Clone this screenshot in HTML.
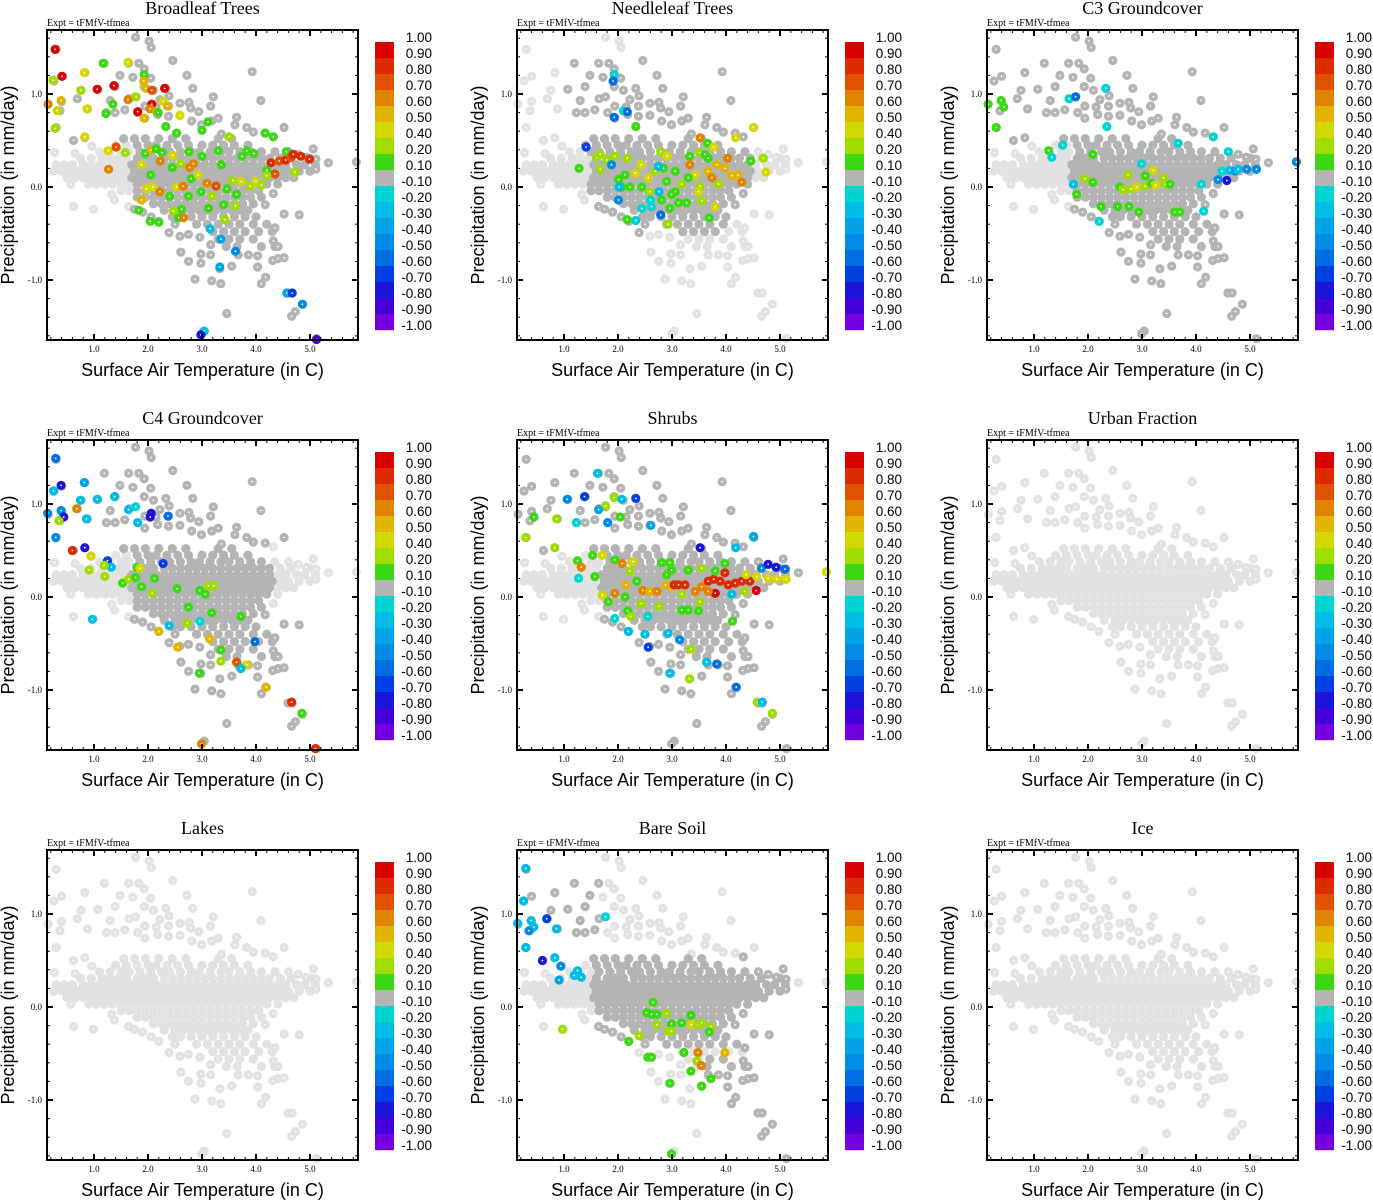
<!DOCTYPE html>
<html><head><meta charset="utf-8"><style>
html,body{margin:0;padding:0;background:#fff;}
svg{display:block;}
</style></head><body>
<svg id="chart" xmlns="http://www.w3.org/2000/svg" width="1373" height="1200" viewBox="0 0 1373 1200"></svg>
<script>
// ---- data ----
const panelTitles = ["Broadleaf Trees","Needleleaf Trees","C3 Groundcover","C4 Groundcover","Shrubs","Urban Fraction","Lakes","Bare Soil","Ice"];
const darkModes = ["p1","p2","p1","p4","p1","none","none","p8","none"];
const xTicks = [1,2,3,4,5];
const xTickLabels = ["1.0","2.0","3.0","4.0","5.0"];
const yTicks = [1,0,-1];
const yTickLabels = ["1.0","0.0","-1.0"];
const cbarEdges = [1,0.9,0.8,0.7,0.6,0.5,0.4,0.2,0.1,-0.1,-0.2,-0.3,-0.4,-0.5,-0.6,-0.7,-0.8,-0.9,-1];
const cbarLabels = ["1.00","0.90","0.80","0.70","0.60","0.50","0.40","0.20","0.10","-0.10","-0.20","-0.30","-0.40","-0.50","-0.60","-0.70","-0.80","-0.90","-1.00"];
const cbarColors = ["#d80000","#de2a00","#e05200","#e08400","#e0b400","#d2d800","#a0dc00","#3cd814","#b4b4b4","#00d4d0","#00bce6","#00a4e6","#008ce6","#006ee2","#0040e0","#1c14d8","#4400d8","#7400e0"];
const coreRows = [
 [0.52,[1.55,1.75,1.95,2.2,2.45,2.7,3.3,3.55]],
 [0.45,[1.4,1.6,1.8,2.0,2.15,2.35,2.55,2.75,3.0,3.2,3.4,3.6,3.85]],
 [0.38,[1.1,1.3,1.5,1.65,1.85,2.05,2.25,2.4,2.6,2.8,2.95,3.15,3.35,3.5,3.7,3.9,4.1,4.35]],
 [0.31,[0.75,0.95,1.15,1.3,1.45,1.6,1.8,1.95,2.1,2.3,2.45,2.6,2.75,2.9,3.05,3.2,3.35,3.5,3.65,3.8,3.95,4.1,4.25,4.45,4.65,5.0]],
 [0.24,[0.3,0.45,0.6,0.8,0.95,1.1,1.25,1.4,1.55,1.7,1.85,2.0,2.15,2.3,2.45,2.6,2.75,2.9,3.05,3.2,3.35,3.5,3.65,3.8,3.95,4.1,4.25,4.4,4.55,4.75,4.9,5.1]],
 [0.17,[0.25,0.4,0.55,0.7,0.85,1.0,1.15,1.3,1.45,1.6,1.75,1.9,2.05,2.2,2.35,2.5,2.65,2.8,2.95,3.1,3.25,3.4,3.55,3.7,3.85,4.0,4.15,4.3,4.45,4.6,4.8,5.0]],
 [0.10,[0.5,0.65,0.8,0.95,1.1,1.25,1.4,1.55,1.7,1.85,2.0,2.15,2.3,2.45,2.6,2.75,2.9,3.05,3.2,3.35,3.5,3.65,3.8,3.95,4.1,4.25,4.4,4.55,4.7]],
 [0.03,[0.9,1.05,1.2,1.35,1.5,1.65,1.8,1.95,2.1,2.25,2.4,2.55,2.7,2.85,3.0,3.15,3.3,3.45,3.6,3.75,3.9,4.05,4.2,4.4]],
 [-0.04,[1.5,1.65,1.8,1.95,2.1,2.25,2.4,2.55,2.7,2.85,3.0,3.15,3.3,3.45,3.6,3.75,3.9,4.05]],
 [-0.11,[1.8,1.95,2.1,2.25,2.4,2.55,2.7,2.85,3.0,3.15,3.3,3.45,3.6,3.75,3.9,4.1]],
 [-0.18,[2.1,2.25,2.4,2.55,2.7,2.85,3.0,3.15,3.3,3.45,3.6,3.75,3.95]],
 [-0.25,[2.3,2.5,2.65,2.8,2.95,3.1,3.25,3.4,3.55,3.7,3.85]],
 [-0.32,[2.45,2.6,2.8,3.0,3.2,3.4,3.6,3.8,4.0]],
 [-0.40,[2.9,3.1,3.3,3.5,3.7,3.95,4.2]],
 [-0.48,[3.2,3.4,3.6,3.8,4.05,4.3]],
 [-0.56,[3.3,3.5,3.7,3.95]],
 [-0.64,[3.45,3.65,4.1,4.35]]
];
const outerPts = [[1.77,1.61],[2.02,1.57],[2.06,1.5],[0.3,1.48],[2.46,1.36],[1.19,1.33],[1.64,1.33],[1.83,1.33],[1.93,1.27],[3.93,1.24],[0.83,1.23],[0.4,1.19],[0.26,1.14],[1.48,1.2],[1.72,1.18],[2.05,1.17],[2.72,1.2],[1.39,1.08],[1.07,1.05],[0.76,1.04],[1.93,1.08],[2.1,1.04],[2.33,1.06],[2.83,1.06],[1.3,0.93],[1.65,0.95],[1.77,0.97],[0.69,0.95],[0.4,0.92],[0.15,0.89],[0.37,0.82],[0.88,0.84],[1.23,0.8],[1.39,0.8],[1.57,0.83],[1.81,0.8],[1.94,0.87],[2.15,0.86],[2.22,0.94],[2.38,0.87],[2.39,0.98],[2.59,0.9],[2.76,0.91],[2.79,0.85],[2.94,0.81],[3.16,0.87],[3.21,0.97],[4.09,0.93],[1.94,0.74],[2.18,0.78],[2.38,0.76],[2.59,0.77],[2.81,0.71],[2.99,0.67],[3.18,0.71],[3.3,0.74],[3.64,0.75],[0.3,0.64],[0.83,0.53],[0.62,0.5],[0.96,0.44],[0.27,0.37],[0.65,0.36],[3.36,0.57],[3.61,0.67],[3.83,0.64],[3.95,0.59],[4.17,0.58],[4.32,0.54],[4.52,0.64],[4.6,0.38],[4.78,0.35],[4.93,0.32],[5.06,0.41],[5.11,0.3],[5.34,0.26],[5.11,0.19],[5.86,0.27],[0.57,0.03],[0.62,-0.21],[0.99,-0.24],[1.33,-0.08],[1.38,-0.14],[1.64,-0.21],[1.75,-0.24],[1.9,-0.27],[2.06,-0.32],[2.2,-0.37],[2.39,-0.49],[2.5,-0.4],[2.59,-0.53],[2.75,-0.51],[2.96,-0.54],[2.61,-0.7],[2.75,-0.8],[2.98,-0.72],[2.98,-0.82],[3.16,-0.73],[3.16,-0.62],[3.33,-0.88],[3.55,-0.85],[2.87,-0.99],[3.18,-1.01],[3.35,-1.04],[3.67,-0.73],[3.86,-0.73],[4.03,-0.74],[4.03,-0.86],[4.1,-1.04],[4.18,-0.97],[4.31,-0.79],[4.41,-0.77],[4.52,-0.76],[4.41,-0.64],[4.32,-0.58],[4.35,-0.44],[4.52,-0.29],[4.32,-0.07],[4.17,-0.19],[4.8,-0.3],[4.59,-1.14],[4.67,-1.14],[4.86,-1.26],[4.73,-1.34],[4.66,-1.39],[3.46,-1.36],[3.04,-1.55],[2.99,-1.58],[5.12,-1.63]];

const broadleafPts = [[0.28,1.48,0.9],[0.41,1.19,0.9],[0.24,1.15,0.3],[0.15,0.89,0.6],[0.39,0.93,0.5],[0.32,0.82,0.4],[0.28,0.63,0.3],[0.82,1.23,0.4],[0.76,1.04,0.3],[0.87,0.84,0.4],[1.06,1.05,0.9],[1.17,1.33,0.1],[1.37,1.09,0.9],[1.35,0.89,0.1],[1.22,0.79,0.1],[1.63,1.34,0.4],[1.63,0.94,0.6],[1.78,0.97,0.3],[1.81,0.81,0.9],[1.93,1.21,0.1],[1.92,1.14,0.5],[1.96,1.06,0.5],[2.07,1.04,0.7],[2.31,1.06,0.9],[2.07,0.89,0.9],[2.04,0.84,0.6],[2.16,0.81,0.5],[2.28,0.92,0.4],[2.36,0.87,0.5],[1.93,0.74,0.5],[2.59,0.77,0.4],[2.19,0.8,0.1],[3.11,0.7,0.1],[3.0,0.61,0.1],[2.33,0.65,0.1],[2.53,0.58,0.1],[3.5,0.54,0.3],[4.17,0.58,0.1],[4.32,0.54,0.1],[0.83,0.54,0.4],[1.26,0.39,0.4],[1.41,0.43,0.7],[1.58,0.37,0.3],[1.27,0.19,0.6],[1.88,0.24,0.4],[1.95,0.36,0.1],[2.06,0.4,0.5],[2.15,0.41,0.1],[2.26,0.37,0.1],[2.46,0.34,0.4],[2.23,0.28,0.6],[2.45,0.21,0.1],[2.61,0.25,0.3],[2.76,0.38,0.1],[2.77,0.21,0.6],[2.84,0.25,0.6],[3.0,0.33,0.1],[3.3,0.39,0.1],[3.36,0.24,0.1],[3.83,0.39,0.1],[3.96,0.36,0.1],[3.74,0.33,0.1],[4.2,0.18,0.1],[4.28,0.26,0.8],[4.35,0.14,0.7],[4.43,0.28,0.7],[4.55,0.29,0.8],[4.56,0.38,0.1],[4.65,0.32,0.7],[4.69,0.35,0.8],[4.83,0.33,0.8],[4.99,0.3,0.8],[4.72,0.16,0.3],[2.05,0.13,0.1],[1.97,-0.02,0.4],[2.09,0.0,0.4],[2.22,-0.05,0.6],[2.4,-0.1,0.1],[2.53,0.0,0.4],[2.65,0.01,0.6],[2.62,-0.24,0.1],[2.47,-0.26,0.3],[1.88,-0.14,0.5],[1.83,-0.25,0.1],[2.04,-0.37,0.1],[2.2,-0.38,0.1],[2.57,-0.33,0.1],[2.66,-0.33,0.6],[2.8,0.09,0.1],[2.93,0.13,0.4],[3.09,0.04,0.6],[3.26,0.01,0.7],[2.98,-0.05,0.1],[3.19,-0.1,0.3],[3.12,-0.23,0.1],[3.4,-0.19,0.1],[3.42,-0.35,0.3],[3.62,-0.2,0.3],[3.57,0.07,0.3],[3.73,0.06,0.4],[3.89,0.01,0.3],[3.64,-0.08,0.1],[3.46,-0.02,0.1],[4.0,0.06,0.4],[4.1,0.02,0.3],[4.2,0.12,0.3],[2.75,-0.1,0.1],[3.15,-0.45,-0.3],[3.35,-0.56,-0.4],[3.62,-0.69,-0.5],[3.33,-0.86,-0.4],[4.57,-1.14,-0.4],[4.67,-1.14,-0.7],[4.86,-1.26,-0.5],[3.04,-1.55,-0.3],[2.98,-1.59,-0.8],[5.12,-1.64,-0.9]];
const needleleafPts = [[1.93,1.21,-0.2],[1.91,1.14,-0.6],[2.1,0.82,-0.2],[2.17,0.81,-0.6],[1.93,0.75,-0.6],[1.41,0.43,-0.7],[2.33,0.65,0.1],[3.52,0.53,0.6],[3.66,0.47,0.1],[3.77,0.43,0.4],[4.18,0.53,0.4],[4.51,0.64,0.4],[1.28,0.2,0.1],[1.61,0.32,0.3],[1.67,0.35,0.3],[1.79,0.29,0.3],[1.94,0.33,0.3],[2.17,0.31,0.3],[1.67,0.19,0.3],[2.01,0.08,0.1],[2.07,0.0,0.1],[2.22,0.0,0.1],[2.43,0.24,0.4],[2.32,0.15,0.4],[2.13,0.13,0.1],[2.44,0.0,0.1],[2.59,-0.05,0.3],[2.56,0.1,0.4],[2.69,0.17,0.3],[2.79,0.38,0.3],[2.91,0.33,0.4],[2.84,0.2,0.1],[2.9,0.06,0.1],[3.06,-0.05,0.1],[2.81,-0.14,0.1],[2.96,-0.23,0.1],[3.12,-0.17,0.1],[3.27,-0.17,0.1],[3.06,0.17,0.1],[3.18,0.03,0.3],[3.33,0.33,0.1],[3.33,0.24,0.6],[3.43,0.13,0.4],[3.52,0.37,0.3],[3.52,0.01,0.3],[3.61,0.35,0.1],[3.67,0.31,0.1],[3.67,0.17,0.5],[3.74,0.1,0.6],[3.83,0.24,0.5],[3.86,0.03,0.3],[3.98,0.2,0.5],[4.03,0.31,0.6],[4.11,0.12,0.5],[4.22,0.13,0.5],[4.29,0.05,0.6],[4.46,0.28,0.1],[4.69,0.31,0.3],[4.74,0.16,0.4],[3.55,-0.15,0.3],[3.8,-0.21,0.4],[3.69,-0.33,0.1],[3.49,-0.05,0.4],[3.3,0.1,0.1],[2.99,-0.08,0.1],[2.01,-0.14,-0.5],[2.02,0.0,-0.3],[2.6,-0.14,-0.2],[2.76,-0.05,-0.3],[2.44,-0.23,-0.2],[2.62,-0.21,-0.2],[2.33,-0.36,-0.2],[2.17,-0.35,0.1],[2.79,-0.3,-0.6],[2.93,-0.4,0.3],[1.88,0.24,-0.5],[2.75,0.22,-0.3]];
const c3Pts = [[0.15,0.89,0.1],[0.39,0.93,0.1],[0.44,0.86,0.1],[0.3,0.64,0.1],[1.27,0.39,0.1],[1.33,0.32,-0.2],[1.53,0.45,-0.2],[1.65,0.95,-0.2],[1.77,0.97,-0.6],[2.33,1.06,-0.2],[2.35,0.65,-0.2],[2.09,0.35,0.1],[1.94,0.09,0.3],[2.09,0.05,0.1],[1.79,-0.08,0.1],[1.73,0.03,-0.3],[2.24,-0.21,0.1],[2.55,-0.21,0.1],[2.76,-0.21,0.1],[2.94,-0.27,0.1],[3.61,-0.27,0.1],[3.7,-0.27,0.1],[2.59,0.0,0.1],[2.65,-0.03,0.3],[2.8,-0.02,0.3],[2.9,0.0,0.4],[3.06,0.01,0.3],[2.74,0.13,0.3],[3.06,0.12,0.1],[3.21,0.18,0.4],[3.18,0.04,0.1],[3.25,0.02,0.4],[3.4,0.1,0.3],[3.43,0.03,0.3],[3.52,0.03,0.1],[2.21,-0.37,-0.2],[3.67,0.47,-0.2],[4.32,0.54,-0.2],[4.6,0.38,-0.2],[4.48,0.17,-0.2],[4.63,0.18,-0.3],[4.72,0.17,-0.4],[4.78,0.19,-0.3],[4.94,0.19,-0.5],[5.12,0.19,-0.5],[4.57,0.07,-0.8],[4.41,0.08,-0.5],[4.14,-0.26,-0.2],[4.1,0.03,-0.2],[5.86,0.27,-0.5],[2.99,0.25,-0.2]];
const c4Pts = [[0.29,1.49,-0.6],[0.39,1.2,-0.8],[0.25,1.14,-0.3],[0.82,1.23,-0.4],[0.75,1.04,-0.3],[1.06,1.05,-0.3],[1.38,1.08,-0.3],[0.68,0.95,0.6],[0.39,0.93,-0.5],[0.44,0.86,-0.8],[0.35,0.82,0.3],[0.14,0.9,-0.5],[0.86,0.84,-0.3],[1.64,0.94,-0.3],[1.77,0.97,-0.2],[1.81,0.8,-0.3],[2.06,0.9,-0.8],[2.04,0.86,-0.8],[2.37,0.87,-0.6],[0.29,0.64,-0.5],[0.6,0.5,0.8],[0.83,0.53,-0.8],[0.94,0.44,0.4],[1.25,0.39,-0.7],[1.32,0.32,-0.3],[1.19,0.34,0.3],[0.91,0.29,0.3],[1.2,0.22,0.3],[1.53,0.15,0.1],[1.64,0.19,0.3],[1.77,0.21,0.1],[1.79,0.32,0.1],[1.85,0.31,0.4],[1.88,0.11,0.1],[2.08,0.04,0.3],[2.12,0.2,0.1],[2.28,0.36,-0.7],[2.54,0.09,0.1],[2.75,-0.11,0.1],[2.96,0.07,0.1],[3.06,0.03,0.1],[3.12,0.12,0.3],[3.22,0.12,0.3],[3.18,-0.17,0.1],[3.72,-0.21,0.1],[2.96,-0.26,-0.2],[2.73,-0.28,0.3],[2.39,-0.31,-0.3],[2.2,-0.37,0.5],[0.97,-0.24,-0.3],[2.55,-0.54,0.5],[3.14,-0.45,0.5],[3.35,-0.57,0.1],[3.35,-0.69,0.3],[3.64,-0.7,0.7],[3.83,-0.73,0.4],[3.72,-0.77,-0.3],[2.95,-0.82,0.1],[4.19,-0.97,0.5],[4.66,-1.13,0.8],[4.85,-1.25,0.1],[2.99,-1.58,0.6],[5.1,-1.63,0.8],[3.98,-0.48,-0.6]];
const shrubsPts = [[1.62,1.33,-0.3],[1.06,1.05,-0.5],[1.38,1.08,-0.7],[1.93,1.07,0.3],[1.77,0.98,0.3],[1.64,0.94,-0.4],[2.07,1.05,-0.3],[2.33,1.06,-0.7],[0.445,0.86,0.1],[0.865,0.84,0.3],[0.29,0.64,0.3],[0.83,0.53,0.3],[1.23,0.8,-0.2],[1.81,0.8,-0.5],[2.04,0.86,0.1],[2.61,0.77,-0.4],[4.51,0.65,-0.4],[3.52,0.53,-0.8],[4.18,0.53,-0.3],[1.25,0.39,0.1],[1.53,0.45,0.1],[1.71,0.45,0.4],[1.32,0.32,0.6],[1.27,0.2,-0.2],[1.57,0.22,0.1],[1.71,0.02,0.4],[1.82,-0.05,0.1],[1.94,0.04,0.6],[1.94,0.4,0.1],[2.08,0.36,0.6],[2.28,0.38,0.4],[2.22,0.28,0.3],[2.15,0.13,0.5],[2.13,0.0,0.1],[2.43,-0.07,0.3],[2.35,0.17,0.1],[2.46,0.07,0.6],[2.59,0.06,0.5],[2.72,0.06,0.6],[2.76,-0.1,0.3],[2.81,0.37,0.1],[2.96,0.37,0.1],[2.9,0.24,0.1],[2.88,0.13,0.5],[2.99,0.11,0.5],[3.04,0.13,0.8],[3.12,0.13,0.8],[3.24,0.13,0.8],[3.18,0.03,0.3],[3.18,-0.14,0.1],[3.3,-0.14,0.1],[3.49,-0.15,0.1],[3.52,-0.05,0.3],[3.43,0.06,0.6],[3.55,0.11,0.6],[3.67,0.17,0.8],[3.77,0.19,0.8],[3.89,0.17,0.8],[3.98,0.26,0.8],[4.04,0.13,0.8],[4.17,0.15,0.8],[4.29,0.17,0.8],[4.44,0.17,0.8],[3.8,0.04,0.9],[3.67,0.06,0.6],[3.8,0.28,0.1],[3.98,0.36,0.1],[3.55,0.31,0.3],[3.3,0.29,0.1],[2.99,0.29,0.1],[4.37,0.24,0.4],[4.57,0.22,0.4],[4.78,0.2,0.4],[4.94,0.19,0.4],[5.11,0.19,0.4],[5.86,0.27,0.4],[4.66,0.31,-0.5],[4.78,0.35,-0.8],[4.93,0.32,-0.8],[5.09,0.3,-0.6],[4.56,0.07,0.9],[4.35,0.06,0.3],[4.11,0.03,-0.3],[4.12,-0.26,0.1],[1.94,-0.23,-0.2],[2.18,-0.15,0.1],[2.24,-0.21,0.3],[2.55,-0.21,-0.2],[2.19,-0.37,-0.3],[2.5,-0.4,-0.3],[2.56,-0.54,-0.7],[2.93,-0.39,-0.3],[3.14,-0.46,-0.5],[3.35,-0.56,0.3],[2.96,-0.82,-0.3],[3.64,-0.7,-0.3],[3.83,-0.72,-0.6],[3.32,-0.88,0.3],[4.19,-0.97,-0.6],[4.58,-1.13,0.3],[4.67,-1.13,-0.3],[4.86,-1.25,0.3]];
const bareSoilPts = [[0.29,1.49,-0.3],[0.25,1.14,-0.3],[0.39,0.93,-0.3],[0.44,0.86,-0.3],[0.35,0.82,-0.5],[0.14,0.9,-0.3],[0.68,0.95,-0.7],[0.86,0.84,-0.3],[0.29,0.64,-0.3],[0.6,0.5,-0.8],[0.83,0.53,-0.3],[0.94,0.44,-0.5],[1.25,0.39,-0.3],[1.19,0.34,-0.3],[1.32,0.32,-0.3],[0.91,0.29,-0.4],[1.77,0.97,-0.2],[0.97,-0.24,0.3],[2.65,0.05,0.1],[2.53,-0.06,0.1],[2.62,-0.08,0.1],[2.72,-0.08,0.1],[2.72,-0.19,0.3],[2.9,-0.07,0.3],[2.99,-0.18,0.1],[2.93,-0.26,0.3],[2.99,-0.26,0.3],[3.18,-0.17,0.1],[3.35,-0.09,0.1],[3.36,-0.19,0.4],[3.48,-0.19,0.3],[3.55,-0.17,0.3],[3.72,-0.21,0.3],[3.69,-0.27,0.1],[2.39,-0.31,0.3],[2.2,-0.37,0.1],[2.55,-0.54,0.1],[2.62,-0.54,0.1],[3.22,-0.49,0.1],[3.48,-0.49,0.6],[3.46,-0.58,0.3],[3.54,-0.63,0.6],[3.98,-0.49,0.5],[3.35,-0.69,0.1],[3.72,-0.77,0.1],[3.55,-0.85,0.1],[2.96,-0.82,0.1],[2.99,-1.58,0.1]];
const panelPts = [broadleafPts, needleleafPts, c3Pts, c4Pts, shrubsPts, [], [], bareSoilPts, []];

// ---- drawing ----
const NS = "http://www.w3.org/2000/svg";
const svg = document.getElementById("chart");
function mk(tag, attrs, parent){ const e=document.createElementNS(NS,tag); for(const k in attrs) e.setAttribute(k,attrs[k]); (parent||svg).appendChild(e); return e; }
const BOX_L=47, BOX_T=30, BOX_W=311, BOX_H=310;
function xScale(v){ return 94 + (v-1)*54; }
function yScale(v){ return 187 - v*93; }
function colorFor(v){ for(let i=0;i<cbarColors.length;i++){ if(v>=cbarEdges[i+1]-1e-9) return cbarColors[i]; } return cbarColors[cbarColors.length-1]; }
function isDark(mode,x,y){
  if(mode==="none") return false;
  if(mode==="p1") return !(x<1.7 && y>-0.35 && y<0.5);
  if(mode==="p2") return x>0.9 && x<4.5 && y>-0.5 && y<1.4 && !(x<1.5 && y<0.45 && y>-0.3) && !(x>4.0 && y<-0.2);
  if(mode==="p4") return !((x<1.7 && y<0.5) || (x>4.3 && y>-0.2 && y<0.6));
  if(mode==="p8") return (y<0.55 && y>-0.45 && x>1.5 && x<5.2) || (x<1.7 && y>0.5) || (x>3.5 && y<-0.55);
  return false;
}
const cloud = [];
coreRows.forEach(r=>r[1].forEach(x=>cloud.push([x,r[0],1])));
outerPts.forEach(p=>cloud.push([p[0],p[1],0]));

function marker(g,x,y,fill,dot){
  const c = mk("circle",{cx:xScale(x).toFixed(1),cy:yScale(y).toFixed(1),r:4.6,fill:fill},g);
  
  
  if(dot) mk("circle",{cx:xScale(x).toFixed(1),cy:yScale(y).toFixed(1),r:0.9,fill:"#fff"},g);
}

panelTitles.forEach((title,pi)=>{
  const ox=(pi%3)*470, oy=Math.floor(pi/3)*410;
  const g = mk("g",{transform:`translate(${ox},${oy})`});
  
  
  const t = mk("text",{x:202.5,y:14,"text-anchor":"middle","font-family":"Liberation Serif, serif","font-size":"18"},g); t.textContent=title;
  
  
  const ex = mk("text",{x:47,y:26,"font-family":"Liberation Serif, serif","font-size":"10"},g); ex.textContent="Expt = tFMfV-tfmea";
  
  
  const pts = mk("g",{},g);
  
  
  const mode = darkModes[pi];
  cloud.forEach(p=>{ if(!isDark(mode,p[0],p[1])) marker(pts,p[0],p[1],"#e2e2e2",!p[2]); });
  cloud.forEach(p=>{ if(isDark(mode,p[0],p[1])) marker(pts,p[0],p[1],"#b4b4b4",!p[2]); });
  panelPts[pi].forEach(p=>marker(pts,p[0],p[1],colorFor(p[2]),true));
  const box = mk("rect",{x:BOX_L,y:BOX_T,width:BOX_W,height:BOX_H,fill:"none",stroke:"#000","stroke-width":2},g);
  
  
  for(let v=0.2; v<=5.81; v+=0.2){
    const X=xScale(v); const major=Math.abs(v-Math.round(v))<1e-6; const L=major?6:3;
    mk("line",{x1:X,y1:BOX_T+BOX_H,x2:X,y2:BOX_T+BOX_H-L,stroke:"#000","stroke-width":major?2:1},g);
    mk("line",{x1:X,y1:BOX_T,x2:X,y2:BOX_T+L,stroke:"#000","stroke-width":major?2:1},g);
  }
  for(let v=-1.6; v<=1.61; v+=0.2){
    const Y=yScale(v); const major=Math.abs(v-Math.round(v))<1e-6; const L=major?6:3;
    mk("line",{x1:BOX_L,y1:Y,x2:BOX_L+L,y2:Y,stroke:"#000","stroke-width":major?2:1},g);
    mk("line",{x1:BOX_L+BOX_W,y1:Y,x2:BOX_L+BOX_W-L,y2:Y,stroke:"#000","stroke-width":major?2:1},g);
  }
  xTicks.forEach((v,i)=>{ const tl=mk("text",{x:xScale(v),y:352,"text-anchor":"middle","font-family":"Liberation Serif, serif","font-size":"9"},g); tl.textContent=xTickLabels[i];
    
     });
  yTicks.forEach((v,i)=>{ const tl=mk("text",{x:42,y:yScale(v)+3,"text-anchor":"end","font-family":"Liberation Serif, serif","font-size":"9"},g); tl.textContent=yTickLabels[i];
    
     });
  const xt = mk("text",{x:202.5,y:376,"text-anchor":"middle","font-family":"Liberation Sans, sans-serif","font-size":"18"},g); xt.textContent="Surface Air Temperature (in C)";
  
  
  const yt = mk("text",{x:0,y:0,transform:"translate(14,185) rotate(-90)","text-anchor":"middle","font-family":"Liberation Sans, sans-serif","font-size":"18"},g); yt.textContent="Precipitation (in mm/day)";
  
  
  const cb = mk("g",{},g);
  
  
  cbarColors.forEach((c,i)=>{ const r=mk("rect",{x:375,y:42+i*16,width:19,height:16.2,fill:c},cb);
    
     });
  cbarLabels.forEach((l,i)=>{ const tl=mk("text",{x:432,y:42+i*16,"text-anchor":"end","font-family":"Liberation Sans, sans-serif","font-size":"13.5"},cb); tl.textContent=l;
    
     });
});
</script>
</body></html>
